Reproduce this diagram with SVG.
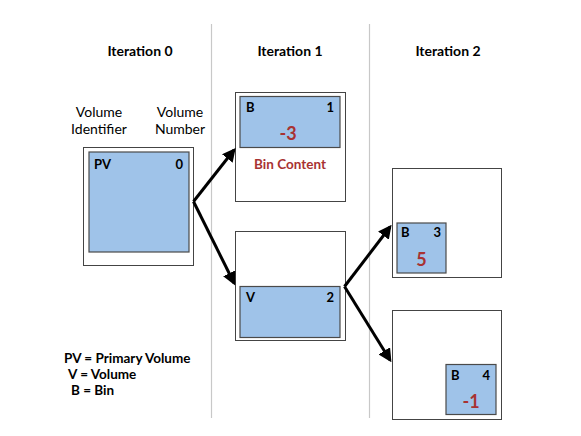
<svg xmlns="http://www.w3.org/2000/svg" width="581" height="436" viewBox="0 0 581 436">
<defs>
<style>
.div{stroke:#c8c8c8;stroke-width:1.2;fill:none}
.outer{fill:#fff;stroke:#444;stroke-width:1}
.inner{fill:#9fc3e9;stroke:#4a4a4a;stroke-width:1.2}
.t{font-family:Lato,"Open Sans","Liberation Sans",sans-serif;fill:#000}
.h{font-size:14px;font-weight:bold}
.n{font-size:14px}
.lbl{font-size:13px;font-weight:bold}
.leg{font-size:13.5px;font-weight:bold}
.val{font-size:18px;font-weight:bold;fill:#a83232}
.red{font-size:13.5px;font-weight:bold;fill:#a83232}
.conn{stroke:#000;stroke-width:3;fill:none;stroke-linejoin:miter}
</style>
<marker id="ah" viewBox="0 0 10 10" refX="8" refY="5" markerWidth="4.5" markerHeight="4.5" orient="auto" markerUnits="strokeWidth">
<path d="M0,0 L10,5 L0,10 z" fill="#000"/>
</marker>
</defs>
<rect width="581" height="436" fill="#fff"/>
<g id="dividers">
<line class="div" x1="211.5" y1="24" x2="211.5" y2="418"/>
<line class="div" x1="369.5" y1="24" x2="369.5" y2="418"/>
</g>
<g id="headers">
<text class="t h" x="140" y="56" text-anchor="middle">Iteration 0</text>
<text class="t h" x="290" y="56" text-anchor="middle">Iteration 1</text>
<text class="t h" x="448" y="56" text-anchor="middle">Iteration 2</text>
<text class="t n" x="99" y="117" text-anchor="middle">Volume</text>
<text class="t n" x="99" y="134" text-anchor="middle">Identifier</text>
<text class="t n" x="180" y="117" text-anchor="middle">Volume</text>
<text class="t n" x="180" y="134" text-anchor="middle">Number</text>
</g>
<g id="node-pv">
<rect class="outer" x="83.5" y="147.5" width="110" height="118"/>
<rect class="inner" x="89" y="152" width="100" height="100"/>
<text class="t lbl" x="94" y="169">PV</text>
<text class="t lbl" x="183" y="169" text-anchor="end">0</text>
</g>
<g id="node-b1">
<rect class="outer" x="235.5" y="92.5" width="110" height="109"/>
<rect class="inner" x="240" y="96.5" width="100" height="51"/>
<text class="t lbl" x="246" y="112">B</text>
<text class="t lbl" x="334" y="112" text-anchor="end">1</text>
<text class="t val" x="288" y="140" text-anchor="middle">-3</text>
<text class="t red" x="290" y="169" text-anchor="middle">Bin Content</text>
</g>
<g id="node-v2">
<rect class="outer" x="235.5" y="231.5" width="110" height="109"/>
<rect class="inner" x="240" y="286.5" width="100" height="51"/>
<text class="t lbl" x="246" y="302">V</text>
<text class="t lbl" x="334" y="302" text-anchor="end">2</text>
</g>
<g id="node-b3">
<rect class="outer" x="392.5" y="168.5" width="109" height="109"/>
<rect class="inner" x="397" y="223" width="49" height="50"/>
<text class="t lbl" x="401" y="237">B</text>
<text class="t lbl" x="441" y="237" text-anchor="end">3</text>
<text class="t val" x="421.5" y="266" text-anchor="middle">5</text>
</g>
<g id="node-b4">
<rect class="outer" x="392.5" y="310.5" width="109" height="109"/>
<rect class="inner" x="446" y="364.5" width="50" height="50"/>
<text class="t lbl" x="451" y="380">B</text>
<text class="t lbl" x="490" y="380" text-anchor="end">4</text>
<text class="t val" x="471" y="408" text-anchor="middle">-1</text>
</g>
<g id="connectors">
<path class="conn" d="M193.5,201.5 L234,150" marker-end="url(#ah)"/>
<path class="conn" d="M193.5,201.5 L234,283" marker-end="url(#ah)"/>
<path class="conn" d="M344.5,286.5 L390,227" marker-end="url(#ah)"/>
<path class="conn" d="M344.5,286.5 L390,360" marker-end="url(#ah)"/>
</g>
<g id="legend">
<text class="t leg" x="64" y="363">PV = Primary Volume</text>
<text class="t leg" x="68" y="379">V = Volume</text>
<text class="t leg" x="71" y="395">B = Bin</text>
</g>
</svg>
